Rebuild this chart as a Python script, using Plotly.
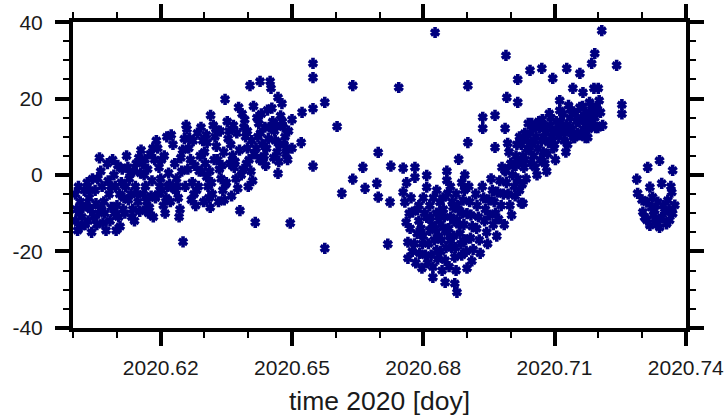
import plotly.graph_objects as go

# Late-summer block (decimal year, value)
t_a = [
    2020.6005, 2020.6008, 2020.6006, 2020.6010, 2020.6016, 2020.6020, 2020.6025, 2020.6027,
    2020.6032, 2020.6036, 2020.6040, 2020.6042, 2020.6047, 2020.6050, 2020.6054,
    2020.6060, 2020.6063, 2020.6066, 2020.6070, 2020.6072, 2020.6075, 2020.6078, 2020.6082, 2020.6084,
    2020.6090, 2020.6093, 2020.6096, 2020.6100, 2020.6104, 2020.6107, 2020.6112, 2020.6116,
    2020.6122, 2020.6125, 2020.6128, 2020.6132, 2020.6136, 2020.6140, 2020.6144, 2020.6148,
    2020.6155, 2020.6158, 2020.6162, 2020.6165, 2020.6168, 2020.6172, 2020.6176, 2020.6180, 2020.6183,
    2020.6190, 2020.6193, 2020.6196, 2020.6200, 2020.6203, 2020.6206, 2020.6210, 2020.6214, 2020.6218,
    2020.6224, 2020.6228, 2020.6232, 2020.6236, 2020.6240, 2020.6244, 2020.6248, 2020.6251, 2020.6254,
    2020.6260, 2020.6264, 2020.6268, 2020.6272, 2020.6276, 2020.6280, 2020.6284, 2020.6288,
    2020.6292, 2020.6296, 2020.6300, 2020.6302, 2020.6305, 2020.6308, 2020.6310, 2020.6313, 2020.6314,
    2020.6320, 2020.6324, 2020.6327, 2020.6330, 2020.6334, 2020.6338, 2020.6342, 2020.6345, 2020.6347,
    2020.6352, 2020.6356, 2020.6360, 2020.6364, 2020.6368, 2020.6372, 2020.6376, 2020.6381, 2020.6378,
    2020.6386, 2020.6390, 2020.6394, 2020.6398, 2020.6402, 2020.6406, 2020.6404, 2020.6410, 2020.6416, 2020.6412,
    2020.6420, 2020.6424, 2020.6428, 2020.6432, 2020.6436, 2020.6440, 2020.6427, 2020.6444,
    2020.6450, 2020.6452, 2020.6456, 2020.6460, 2020.6462, 2020.6466, 2020.6470, 2020.6474,
    2020.6468, 2020.6477, 2020.6480, 2020.6484, 2020.6488, 2020.6490, 2020.6468,
    2020.6500, 2020.6521, 2020.6523, 2020.6496, 2020.6500,
]
v_a = [
    -5, -9, -12, -14.5, -7, -11, -4, -13,
    -2, -6, -9, -15, -11, -4, -13,
    4.5, 1, -3, -7, -10, -14.5, 3, -5, -12,
    4, 0, -3, -8, -11, -13.5, 1.5, -6,
    5, 2, -1, -5, -9, -12, 3, -7,
    6.5, 3, 0, -3, -7, -10, 5.5, -1.5, -11,
    9, 7, 2, -1, -4, -8, -10, 10, 0.5,
    10.5, 8, 3, -1, -6, -9, 1, -17.5, 9.5,
    12, 7, 4, -2, -5, -8, 11, 1,
    12.5, 9, 6, 3, -0.5, -3, -6, -8.5, 15.6,
    13, 10, 7.5, 4, 1.5, -1, -4, -6.5, 19.8,
    14, 11.5, 8, 5, 2, -1, -3.5, -9.3, 17.7,
    16, 12.5, 10, 7, 4, 1, 23.4, -1.5, -12.4, 18,
    15, 13.5, 11, 8, 5, 2.5, 24.5, 17,
    24.5, 22.7, 14, 11.5, 9, 6, 3.5, 15.5,
    20.3, 18.7, 12.5, 10, 7, 4, 0.4,
    7, 8.5, 16.4, -12.6, 14.5,
]

# More samples inside the same block
t_a2 = [
    2020.6012, 2020.6018, 2020.6030, 2020.6044, 2020.6052, 2020.6058, 2020.6080, 2020.6087,
    2020.6098, 2020.6102, 2020.6110, 2020.6118, 2020.6130, 2020.6134, 2020.6142, 2020.6150,
    2020.6152, 2020.6160, 2020.6170, 2020.6174, 2020.6186, 2020.6188, 2020.6198, 2020.6208,
    2020.6212, 2020.6220, 2020.6234, 2020.6242, 2020.6246, 2020.6256, 2020.6258, 2020.6266,
    2020.6270, 2020.6278, 2020.6282, 2020.6290, 2020.6298, 2020.6304, 2020.6312, 2020.6318,
    2020.6322, 2020.6332, 2020.6336, 2020.6340, 2020.6350, 2020.6354, 2020.6362, 2020.6366,
    2020.6370, 2020.6380, 2020.6384, 2020.6392, 2020.6396, 2020.6400, 2020.6408, 2020.6414,
    2020.6422, 2020.6430, 2020.6434, 2020.6438, 2020.6442, 2020.6446, 2020.6454, 2020.6458,
    2020.6464, 2020.6472, 2020.6478, 2020.6486, 2020.6492,
    2020.6014, 2020.6022, 2020.6034, 2020.6038, 2020.6056, 2020.6064, 2020.6068, 2020.6086,
    2020.6094, 2020.6106, 2020.6114, 2020.6120, 2020.6126, 2020.6138, 2020.6146, 2020.6154,
    2020.6164, 2020.6166, 2020.6178, 2020.6182, 2020.6194, 2020.6202, 2020.6216, 2020.6222,
    2020.6230, 2020.6238, 2020.6250, 2020.6262, 2020.6274, 2020.6286, 2020.6294, 2020.6306,
    2020.6316, 2020.6326, 2020.6344, 2020.6348, 2020.6358, 2020.6374, 2020.6388, 2020.6398,
    2020.6418, 2020.6426, 2020.6448, 2020.6482,
]
v_a2 = [
    -3, -13.5, -8, -1, -7.5, -10, -1.5, -8.5,
    -14.5, 2.5, -2, -10, 0.5, -11, -3, 4.5,
    -9.5, -5, 1.5, -8.5, 4, -6, -3, 5,
    -6, -2.5, -4, -11, 4.5, -3, 13, 9.5,
    -6.5, 2.5, -4, 5, -7, 10.5, 1, -5,
    4, -7, 11.5, 2.5, -2, 9.5, -5.5, 13,
    3.5, 6.5, 0, 14.5, 3, -3, 9, 5.5,
    10, 16, 3.5, 12.5, 7, 9.5, 17.5, 4.5,
    13, 8, 14, 5.5, 11.5,
    -10, -8.5, -12, -4, -1, -9, -12.5, -3,
    -10, -5, -9, -3, -6.5, 1, -5, 0.5,
    4, -9, -5.5, 7, -5, 4, -3, -7,
    -3.5, -3, 6.5, 1.5, 9, -3, 1, 8.5,
    -2, 12, 6, -2.5, 3, 11, 1.5, 11.5,
    7, 4, 12.5, 8,
]

# Sparse stretch and the dip around 2020.68
t_b = [
    2020.6548, 2020.6548, 2020.6548, 2020.6548, 2020.6575, 2020.6575, 2020.6603, 2020.6614, 2020.6639, 2020.6639,
    2020.6662, 2020.6667, 2020.6694, 2020.6697, 2020.6697, 2020.6719, 2020.6724, 2020.6726, 2020.6744,
    2020.6754, 2020.6754, 2020.6758, 2020.6761, 2020.6765, 2020.6765, 2020.6776, 2020.6781, 2020.6781, 2020.6786,
    2020.6792, 2020.6797, 2020.6808, 2020.6808, 2020.6808, 2020.6815, 2020.6822, 2020.6822, 2020.6827, 2020.6831, 2020.6831,
    2020.6838, 2020.6838, 2020.6845, 2020.6850, 2020.6850, 2020.6854, 2020.6854, 2020.6856, 2020.6861, 2020.6868,
    2020.6872, 2020.6872, 2020.6877, 2020.6877, 2020.6881, 2020.6884, 2020.6891, 2020.6900, 2020.6900, 2020.6902, 2020.6902,
    2020.6770, 2020.6780, 2020.6790, 2020.6800, 2020.6805, 2020.6812, 2020.6820, 2020.6825, 2020.6835, 2020.6840,
    2020.6848, 2020.6858, 2020.6865, 2020.6870, 2020.6875, 2020.6880, 2020.6888, 2020.6893, 2020.6897, 2020.6762,
    2020.6772, 2020.6790, 2020.6800, 2020.6815, 2020.6830, 2020.6845, 2020.6862, 2020.6875, 2020.6888, 2020.6895,
]
v_b = [
    29.2, 25.5, 17.4, 2.3, 19, -19.2, 12.7, -4.8, 23.4, -1.1,
    2, -3.5, -2.2, 5.9, -5.8, -18.1, -7.1, 2.3, 22.9,
    1.8, -4.5, -7.1, -12.4, -17.6, -21.8, -9.7, 2, -0.6, -15.3,
    -20.5, -24.4, -0.1, -3.2, -11.1, -14.5, -24.1, -26.8, 37.3, -4, -19.7,
    -7.1, -9.7, -13.7, -22.3, -28.1, 1.0, -1.4, -4.8, -17.1, -8.4,
    -21.5, -28.4, -11.8, -30.7, 4.1, -15.3, -6.6, -10.1, -24.4, 23.4, 8.5,
    -14, -18, -12, -16, -21, -18, -13, -17, -16, -20,
    -11, -14, -19, -12, -25, -9, -21, -13, -17, -2,
    -6, -8, -6, -8, -10, -6, -3, -5, -2, 0,
]

# Extra samples in the bottom of the dip
t_b2 = [
    2020.6768, 2020.6775, 2020.6783, 2020.6787, 2020.6795, 2020.6798, 2020.6803, 2020.6810,
    2020.6817, 2020.6818, 2020.6823, 2020.6828, 2020.6833, 2020.6836, 2020.6842, 2020.6843,
    2020.6846, 2020.6852, 2020.6855, 2020.6859, 2020.6863, 2020.6866, 2020.6869, 2020.6874,
    2020.6878, 2020.6882, 2020.6886, 2020.6890, 2020.6894, 2020.6898, 2020.6904,
]
v_b2 = [
    -10, -20, -23, -9, -14, -18, -10, -23,
    -11, -21, -6, -14, -22, -12, -17, -25,
    -9, -19, -15, -24, -11, -7, -16, -19,
    -8, -13, -18, -10, -4, -20, -3,
]

# Recovery towards 2020.72
t_c = [
    2020.6906, 2020.6909, 2020.6912, 2020.6908, 2020.6914, 2020.6911,
    2020.6920, 2020.6923, 2020.6926, 2020.6922, 2020.6928, 2020.6930,
    2020.6935, 2020.6938, 2020.6942, 2020.6940, 2020.6945, 2020.6947, 2020.6936, 2020.6936,
    2020.6964, 2020.6964, 2020.6955, 2020.6958, 2020.6962, 2020.6965, 2020.6960, 2020.6968,
    2020.6988, 2020.6990, 2020.6994, 2020.6998, 2020.7002, 2020.6985, 2020.6987, 2020.6987, 2020.6989, 2020.6991, 2020.6993,
    2020.7012, 2020.7016, 2020.7020, 2020.7024, 2020.7016, 2020.7016, 2020.7032,
    2020.6996, 2020.7000, 2020.7004, 2020.7008, 2020.7012,
    2020.7020, 2020.7024, 2020.7028, 2020.7030, 2020.7035, 2020.7038,
    2020.7040, 2020.7044, 2020.7048, 2020.7052, 2020.7056, 2020.7060, 2020.7058,
    2020.7064, 2020.7066, 2020.7070, 2020.7074, 2020.7078, 2020.7082, 2020.7080,
    2020.7088, 2020.7090, 2020.7094, 2020.7098, 2020.7102, 2020.7106,
    2020.7112, 2020.7114, 2020.7118, 2020.7122, 2020.7126, 2020.7128,
    2020.7132, 2020.7136, 2020.7140, 2020.7144, 2020.7150,
    2020.7158, 2020.7162, 2020.7166, 2020.7170, 2020.7174,
    2020.7180, 2020.7184, 2020.7188, 2020.7194, 2020.7190,
    2020.7200, 2020.7202, 2020.7205, 2020.7210,
    2020.7044, 2020.7071, 2020.7096, 2020.7128, 2020.7158, 2020.7142, 2020.7165, 2020.7112, 2020.7208, 2020.7192, 2020.7185,
    2020.7146, 2020.7176, 2020.7199, 2020.7048, 2020.7078, 2020.7108, 2020.7028,
]
v_c = [
    -7, -10.5, -13.5, -16.5, -19.5, -22.5,
    -5, -8, -11, -14, -17, -20.5,
    -3, -6, -9, -12, -15, -18, 15.1, 12.2,
    15.6, 7.2, -1, -4, -7, -10, -13, -16,
    1, -2, -5, -8, -10.5, -13, 12.2, 1.2, 31.3, 20.3, 8.3,
    2.5, -1, -4, -7.4, 25.0, 19.0, 10.9,
    6, 3, 0, -3, 5,
    10, 8, 5, 2, -1, 7,
    13.5, 11, 8, 5, 2, 0, 10,
    14, 12.4, 9, 6, 3, 1, 11,
    16.1, 13, 10, 7, 4, 12,
    16.9, 14, 11.7, 9, 6, 13,
    18.2, 15, 12, 9.8, 14,
    17.7, 15, 12, 9.8, 13.5,
    19, 16, 13, 12.4, 22.7,
    22.7, 19.5, 16.4, 13,
    27.4, 27.9, 25.3, 27.9, 26.6, 22.7, 21.6, 19.5, 37.8, 31.8, 29.2,
    9.8, 9.8, 12.4, 13.5, 12.4, 11.7, -7.4,
]

# Extra samples along the rising band
t_c2 = [
    2020.6950, 2020.6952, 2020.6970, 2020.6972, 2020.6975, 2020.6978, 2020.6980, 2020.6983,
    2020.7006, 2020.7010, 2020.7014, 2020.7018, 2020.7026, 2020.7033, 2020.7036, 2020.7042,
    2020.7046, 2020.7050, 2020.7054, 2020.7062, 2020.7068, 2020.7072, 2020.7076, 2020.7084,
    2020.7086, 2020.7092, 2020.7096, 2020.7100, 2020.7104, 2020.7110, 2020.7116, 2020.7120,
    2020.7124, 2020.7130, 2020.7134, 2020.7138, 2020.7142, 2020.7148, 2020.7152, 2020.7156,
    2020.7160, 2020.7164, 2020.7168, 2020.7172, 2020.7178, 2020.7182, 2020.7186, 2020.7192,
    2020.7196,
]
v_c2 = [
    -6.5, -10.5, -4.5, -11.5, -1.5, -8, 2, -5,
    2.5, -5.5, 8, 3.5, -2.5, 4, 9.5, 6.5,
    3, 12, 9, 7, 4, 14.5, 10, 5.5,
    8.5, 15, 11, 8, 14, 10, 13, 16,
    11, 8, 12.5, 17, 10.5, 16, 11, 14,
    10.5, 18, 14.5, 16.5, 12, 14.5, 18, 15,
    17.5,
]

# Last samples after the gap
t_d = [
    2020.7242, 2020.7254, 2020.7254,
    2020.7340, 2020.7313, 2020.7370, 2020.7288, 2020.7345, 2020.7318, 2020.7290, 2020.7368, 2020.7311, 2020.7336, 2020.7359, 2020.7375,
    2020.7302, 2020.7329, 2020.7352, 2020.7370, 2020.7311, 2020.7336, 2020.7363, 2020.7318, 2020.7340, 2020.7306, 2020.7345, 2020.7324,
    2020.7322, 2020.7348, 2020.7330, 2020.7356, 2020.7362, 2020.7326, 2020.7300, 2020.7366,
]
v_d = [
    28.7, 18.4, 16.0,
    3.8, 2.0, 1.2, -1.1, -2.2, -3.2, -4.8, -4.5, -7.1, -7.1, -6.6, -7.9,
    -9.7, -9.2, -9.7, -10.1, -11.8, -11.8, -11.8, -13.2, -13.7, -11.1, -11.1, -5.8,
    -8.5, -8.0, -12.5, -12.8, -9, -10.5, -6.5, -3,
]

x_major = [2020.62, 2020.65, 2020.68, 2020.71, 2020.74]
x_labels = ["2020.62", "2020.65", "2020.68", "2020.71", "2020.74"]
y_major = [-40, -20, 0, 20, 40]
y_labels = ["-40", "-20", "0", "20", "40"]

t_all = t_a + t_a2 + t_b + t_b2 + t_c + t_c2 + t_d
v_all = v_a + v_a2 + v_b + v_b2 + v_c + v_c2 + v_d

navy = "#000080"
font_family = "Liberation Sans, Arial, Helvetica, sans-serif"

fig = go.Figure()
# two three-armed glyphs overlaid give a six-armed asterisk
for sym in ("y-up", "y-down"):
    fig.add_trace(go.Scatter(
        x=t_all, y=v_all, mode="markers",
        marker=dict(symbol=sym, size=7, color=navy,
                    line=dict(color=navy, width=3.6)),
        showlegend=False, hoverinfo="skip", cliponaxis=False,
    ))

axis_common = dict(
    showline=True, linecolor="black", linewidth=4, mirror="ticks",
    ticks="outside", ticklen=14, tickwidth=3.8, tickcolor="black",
    showgrid=False, zeroline=False, automargin=False,
    tickfont=dict(family=font_family, size=21, color="#1a1a1a"),
)

fig.update_xaxes(
    range=[2020.59995, 2020.74005], tickmode="array", tickvals=x_major, ticktext=x_labels,
    minor=dict(tick0=2020.60, dtick=0.01, ticks="outside", ticklen=6, tickwidth=2.4,
               tickcolor="black", showgrid=False),
    ticklabelstandoff=4, ticklabeloverflow="allow",
    title=dict(text="time 2020 [doy]", font=dict(family=font_family, size=26.5, color="#1a1a1a"),
               standoff=16),
    **axis_common,
)
fig.update_yaxes(
    range=[-40.05, 40.05], tickmode="array", tickvals=y_major, ticktext=y_labels,
    minor=dict(tick0=-40, dtick=5, ticks="outside", ticklen=6, tickwidth=2.4,
               tickcolor="black", showgrid=False),
    ticklabelstandoff=8, ticklabeloverflow="allow",
    **axis_common,
)

fig.update_layout(
    width=724, height=416,
    margin=dict(l=73, r=38, t=22, b=88),
    paper_bgcolor="white", plot_bgcolor="white",
    font=dict(family=font_family),
)

fig.write_html("out.html")
